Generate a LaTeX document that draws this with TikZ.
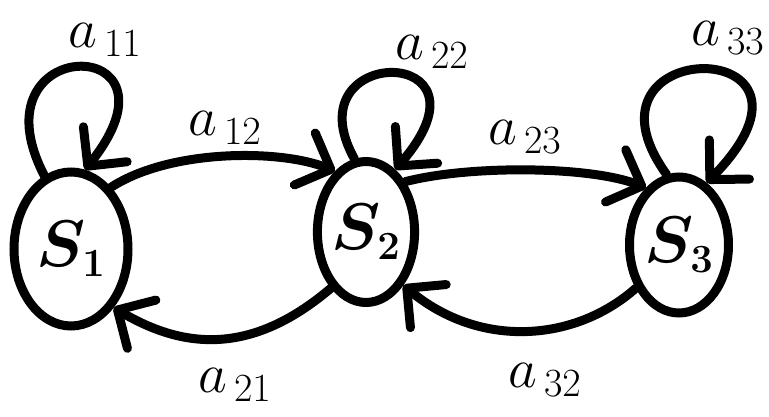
\RequirePackage{fix-cm}
\documentclass[tikz,border=0pt]{standalone}
\usetikzlibrary{shapes.geometric,arrows.meta}
\DeclareMathSizes{66}{66}{40}{28}
\DeclareMathSizes{56}{56}{40}{28}
\tikzset{
  state/.style={draw, ellipse, line width=9pt, inner sep=0pt, font=\fontsize{66}{66}\selectfont\boldmath},
  edge/.style={line width=9pt, line cap=round, -{Straight Barb[length=28pt,width=56pt,round]}},
  lbl/.style={inner sep=0pt, font=\fontsize{56}{56}\selectfont}
}
\begin{document}
\begin{tikzpicture}[x=1pt,y=1pt]
\useasboundingbox (0,0) rectangle (769,417);
\node[state, minimum width=114pt, minimum height=154pt] (s1) at (71,168) {$S_1$};
\node[state, minimum width=97pt, minimum height=141pt] (s2) at (366,185) {$S_2$};
\node[state, minimum width=99pt, minimum height=136pt] (s3) at (679,172) {$S_3$};
% self loops
\draw[edge] (s1.110) .. controls (-30,385) and (195,385) .. (s1.80);
\draw[edge] (s2.99) .. controls (290,374) and (505,374) .. (s2.65);
\draw[edge] (s3.100) .. controls (565,384) and (853,384) .. (s3.66);
% arcs
\draw[edge] (s1.57) .. controls (170,268) and (280,268) .. (s2.117);
\draw[edge] (s2.238) .. controls (250,60) and (182,69) .. (s1.306);
\draw[edge] (s2.52) .. controls (470,252) and (590,251) .. (s3.120);
\draw[edge] (s3.225) .. controls (575,75) and (480,68) .. (s2.305);
% labels
\node[lbl] (l11) at (105,377) {$a_{\,11}$};
\node[lbl] (l12) at (225,289) {$a_{\,12}$};
\node[lbl] (l21) at (235,32) {$a_{\,21}$};
\node[lbl] (l22) at (432,365) {$a_{\,22}$};
\node[lbl] (l23) at (525,280) {$a_{\,23}$};
\node[lbl] (l32) at (545,37) {$a_{\,32}$};
\node[lbl] (l33) at (728,379) {$a_{\,33}$};
\end{tikzpicture}
\end{document}
